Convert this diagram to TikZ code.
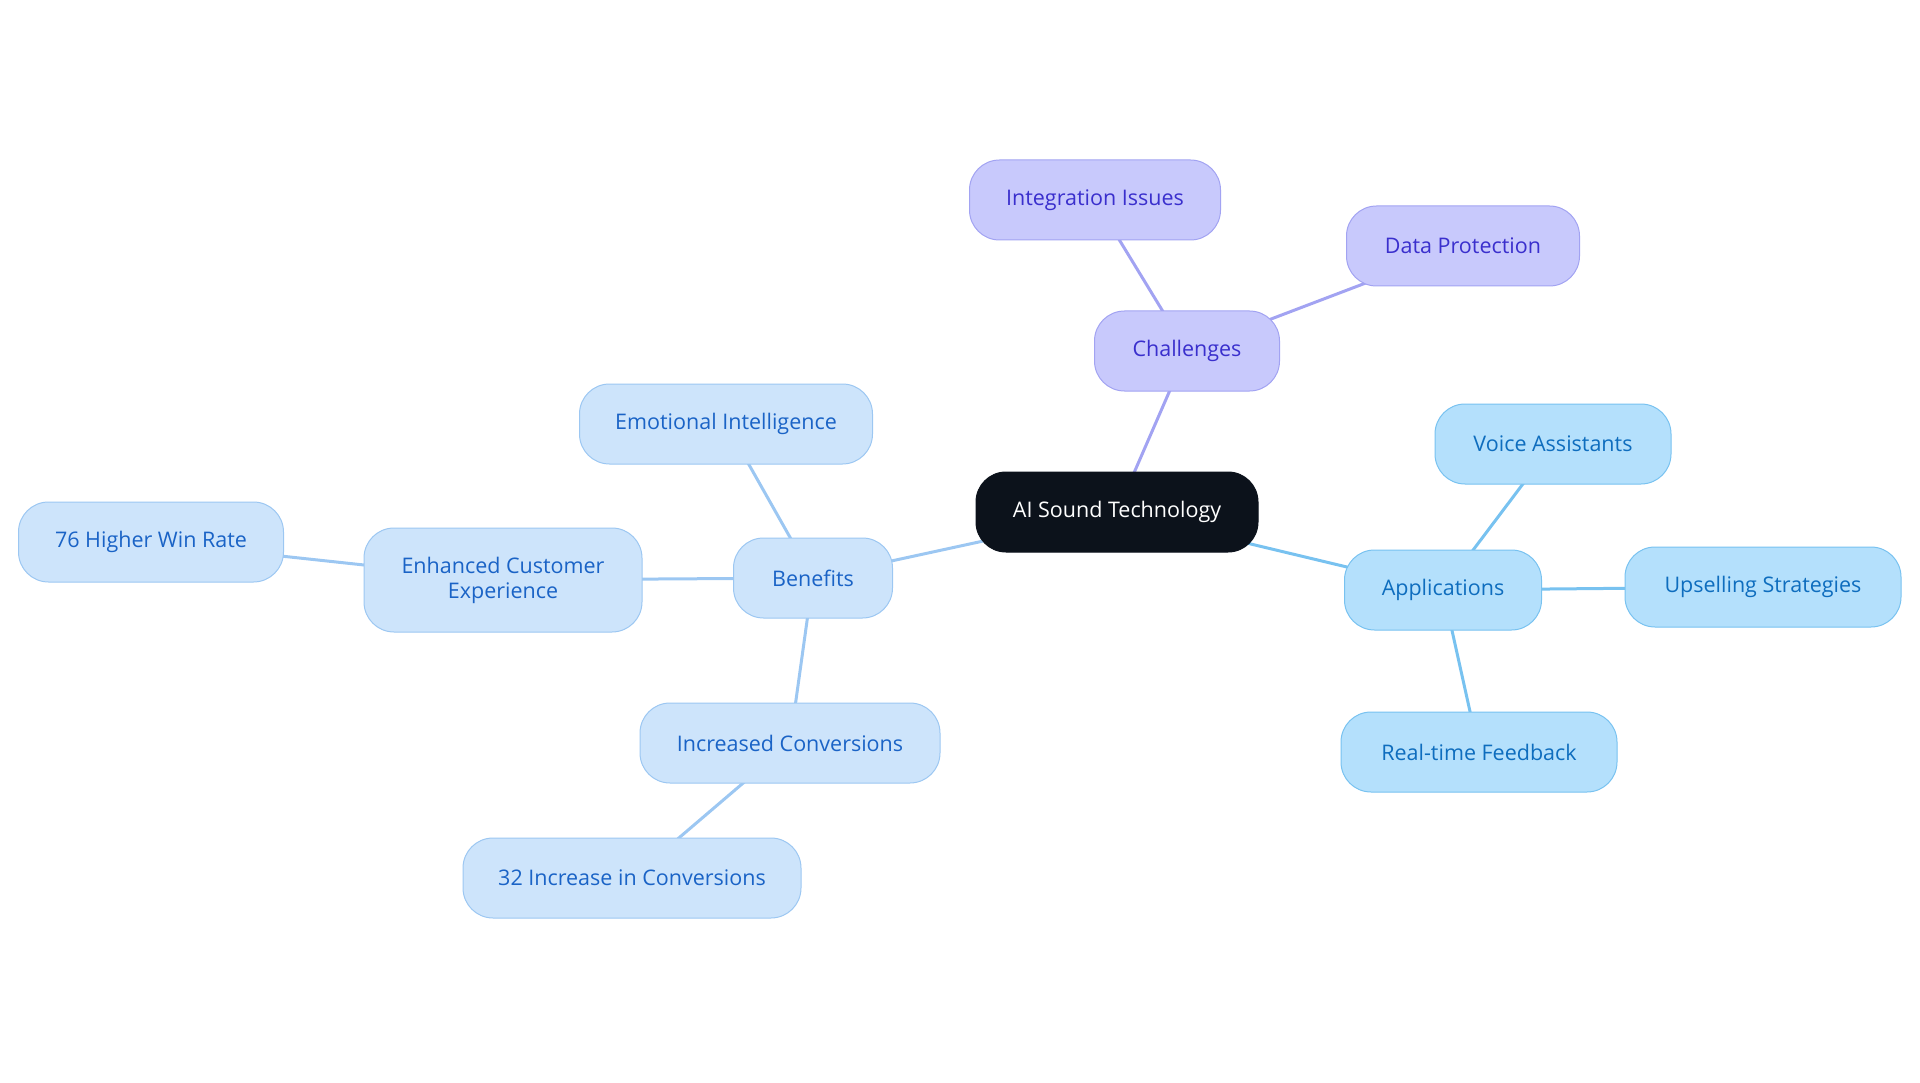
\documentclass[tikz,border=0pt]{standalone}
\usepackage{fontspec}
\setmainfont{Open Sans}
\usetikzlibrary{backgrounds}
\definecolor{rootfill}{HTML}{0C121B}
\definecolor{chfill}{HTML}{C8C9FC}
\definecolor{chline}{HTML}{A2A3F2}
\definecolor{chtext}{HTML}{3A2FCD}
\definecolor{apfill}{HTML}{B4E0FC}
\definecolor{apline}{HTML}{78C2F0}
\definecolor{aptext}{HTML}{0E6DBE}
\definecolor{befill}{HTML}{CDE4FB}
\definecolor{beline}{HTML}{9CC7F2}
\definecolor{betext}{HTML}{1A63C6}
\tikzset{
  box/.style={rounded corners=30pt, minimum height=80pt, inner sep=0pt, align=center, font=\fontsize{21.5}{25}\selectfont, line width=1pt},
  rootbox/.style={box, fill=rootfill, draw=rootfill, text=white},
  chbox/.style={box, fill=chfill, draw=chline, text=chtext},
  apbox/.style={box, fill=apfill, draw=apline, text=aptext},
  bebox/.style={box, fill=befill, draw=beline, text=betext},
  chedge/.style={draw=chline, line width=3pt},
  apedge/.style={draw=apline, line width=3pt},
  beedge/.style={draw=beline, line width=3pt},
}
\begin{document}
\begin{tikzpicture}[x=1pt,y=-1pt]
\useasboundingbox (0,0) rectangle (1920,1083);
\node[rootbox, minimum width=282pt] (ai) at (1117,512) {AI Sound Technology};
\node[chbox, minimum width=185pt] (ch) at (1187,351) {Challenges};
\node[chbox, minimum width=251pt] (ii) at (1095,200) {Integration Issues};
\node[chbox, minimum width=233pt] (dp) at (1463,246) {Data Protection};
\node[apbox, minimum width=197pt] (ap) at (1443,590) {Applications};
\node[apbox, minimum width=236pt] (va) at (1553,444) {Voice Assistants};
\node[apbox, minimum width=276pt] (us) at (1763,587) {Upselling Strategies};
\node[apbox, minimum width=276pt] (rf) at (1479,752) {Real-time Feedback};
\node[bebox, minimum width=159pt] (be) at (813,578) {Benefits};
\node[bebox, minimum width=293pt] (ei) at (726,424) {Emotional Intelligence};
\node[bebox, minimum width=278pt, minimum height=104pt] (ec) at (503,580) {Enhanced Customer\\Experience};
\node[bebox, minimum width=265pt] (wr) at (151,542) {76 Higher Win Rate};
\node[bebox, minimum width=300pt] (ic) at (790,743) {Increased Conversions};
\node[bebox, minimum width=338pt] (ci) at (632,878) {32 Increase in Conversions};
\begin{scope}[on background layer]
\draw[chedge] (ai.center) -- (ch.center);
\draw[chedge] (ch.center) -- (ii.center);
\draw[chedge] (ch.center) -- (dp.center);
\draw[apedge] (ai.center) -- (ap.center);
\draw[apedge] (ap.center) -- (va.center);
\draw[apedge] (ap.center) -- (us.center);
\draw[apedge] (ap.center) -- (rf.center);
\draw[beedge] (ai.center) -- (be.center);
\draw[beedge] (be.center) -- (ei.center);
\draw[beedge] (be.center) -- (ec.center);
\draw[beedge] (ec.center) -- (wr.center);
\draw[beedge] (be.center) -- (ic.center);
\draw[beedge] (ic.center) -- (ci.center);
\end{scope}
\end{tikzpicture}
\end{document}
